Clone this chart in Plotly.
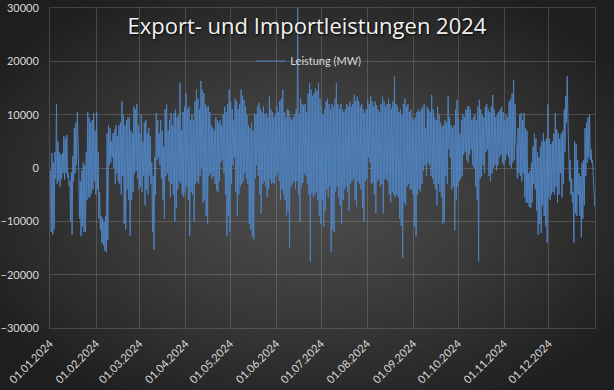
import base64
import struct
import zlib

import numpy as np
import pandas as pd
import plotly.graph_objects as go

# ---------------- data ----------------
# daily maximum / minimum of the power balance in MW, 01.01.2024 .. 31.12.2024
tage_max = [
    -500, 2800, 1000, 3000, 11900, 5000, 3000, 2500, 2800, 6000,
    5500, 6200, -1000, -2500, -800, 2200, 7500, 8500, 10500, -1000,
    -2500, -500, 1000, 500, 3000, 10500, 9500, 8500, 9000, 10300,
    7000, 10500, 3000, -4500, -9000, -9500, -10000, -9000, 6500, 8000,
    7500, 5000, 6500, 7200, 8000, 6000, 8000, 8500, 12500, 9800,
    8000, 9000, 9500, 9500, 7000, 6500, 11500, 11000, 12000, 8000,
    6500,
    10000, 5000, 8500, 9000, 6500, 7500, 6000, 1000, -1500, 2000,
    10300, 9000, 6500, 9000, 7000, 4000, 11000, 11900, 7000, 9000,
    10300, 8000, 10300, 11000, 9500, 10000, 15900, 7000, 10500, 11500,
    14000, 11000, 11500, 9000, 10000, 9000, 12500, 14700, 13000, 11000,
    16300, 14700, 14000, 12000, 11500, 11600, 10500, 8000, 7500, 7000,
    9500, 9000, 8500, 9000, 8000, 10000, 11500, 10500, 12000, 14700,
    12500, 11000, 9000,
    13000, 12500, 11000, 12000, 14700, 13500, 12800, 11500, 10000, 8000,
    7500, 8500, 7000, 10300, 10000, 11500, 12200, 11000, 10500, 11600,
    10000, 10300, 9500, 13400, 11000, 10500, 9500, 10000, 11600, 10500,
    12500, 13000, 14700, 10500, 9500, 11000, 10800, 9500, 9000, 9500,
    10000, 11000, 32000, 10000, 13000, 12000, 11800, 12000, 10500, 14000,
    15900, 14700, 13500, 14000, 15000, 14500, 15900, 13000, 11500, 10000,
    11000, 12500, 13000, 12000,
    11000, 12000, 11500, 13000, 15900, 12000, 11000, 12000, 11000, 10500,
    11000, 12000, 11500, 12500, 11500, 12000, 13700, 12500, 13400, 12500,
    11500, 12000, 11000, 10300, 11000, 12800, 12000, 13400, 12500, 11500,
    12500, 11800, 11000, 10500, 12000, 13400, 12500, 11500, 12000, 13000,
    12000, 11000, 12500, 17200, 12000, 11500, 10500, 11000, 10000, 12000,
    13000, 11500, 12000, 10500, 11000, 9500, 9000, 9500, 10500, 11000,
    10500, 11000, 11500, 12000,
    7500, 11500, 11000, 10500, 13700, 11000, 9500, 9000, 11500, 10000,
    8500, 7800, 8000, 9000, 8500, 13400, 9500, 8000, 7500, 8000,
    11000, 12800, 9500, 6500, 9000, 10000, 9500, 11000, 11500, 11600,
    11000, 9000, 9500, 10000, 9000, 11500, 12800, 11000, 10000, 9500,
    11500, 12000, 11000, 10500, 11500, 13700, 11000, 9500, 10000, 10500,
    11000, 11500, 10500, 9000, 10000, 9500, 12500, 13000, 14000, 16500,
    12000,
    4000, 7500, 10000, 10300, 9000, 10300, 7500, 7000, -1000, -500,
    1000, 4000, 6500, 5500, 3000, 2000, 4000, 5000, 6600, 5000,
    5500, 11900, 5500, 4500, 5000, 6500, 10300, 7200, 6500, 5500,
    6500, 7000, 11000, 13500, 17200, 4000, 1500, -2000, -4500, 5000,
    4500, 1500, -1000, -1500, 1000, 1500, 7500, 8500, 9500, 10000,
    3500, 1500, -3500,
]

tage_min = [
    -12000, -12500, -11500, -2000, -3000, -2500, -3500, -2000, -1000, -2200,
    -1000, -1800, -3400, -10000, -12500, -2500, -1000, 500, -500, -9500,
    -12800, -11000, -12000, -12000, -6000, -5500, -5500, -4800, -4000, -2500,
    -5000, -4000, -9500, -11500, -14000, -14500, -15500, -15800, -13500, 500,
    1000, 2000, 0, -3000, -1000, -2500, -3000, -5000, -1500, -10500,
    -11500, -4000, -6000, -12700, -6000, -4500, -1000, -500, -2000, -4000,
    -3500,
    -4500, -1500, -7000, -4000, -5000, -1500, -3000, -12000, -15300, -5000,
    1500, 2000, 500, -2000, -6000, -9500, -1500, -1000, -2500, -5500,
    -3000, -5000, -10000, -7500, -4000, -2500, -3000, -5000, -5500, -4500,
    -3500, -6000, -12800, -4500, -5000, -10000, -3000, -2500, -3000, -1500,
    0, -6500, -6000, -9000, -10500, -1500, -1000, -2000, -1500, -3000,
    -4200, -4500, -2500, 1000, 1500, -1000, -5000, -12800, -9000, -12000,
    -3000, 500, 2000,
    -4500, -9000, -5000, -3500, -3000, -2500, -1000, -2000, -3000, -10500,
    -11500, -12800, -13400, -2000, 500, -1500, -5000, -8500, -3000, -2500,
    -3500, -5500, -4000, -2200, -3000, -2800, -3000, -1500, -1000, -2500,
    -6000, -4000, -5000, -6000, -9000, -8000, -15000, -3500, -3000, -2500,
    -4000, -2500, -5000, -10000, -3500, -2800, -1000, -1500, -3000, -5000,
    -17500, -4700, -5500, -5000, -4500, -6000, -9000, -10500, -6000, -11000,
    -8000, -4000, -5500, -3500,
    -15800, -11500, -12000, -4500, -3500, -5500, -7000, -10500, -6000, -4000,
    -3500, -4500, -8000, -3000, -2500, -2000, -6000, -7200, -2500, -3000,
    -4000, -7500, -10000, -2500, -2000, 2000, 1000, -3000, -2800, -5000,
    -8500, -2500, -2200, -3500, -3000, -8500, -2200, -2000, -2500, -5000,
    -6500, -4500, -5000, -5500, -5000, -5500, -9500, -10800, -16900, -6500,
    -7000, -3500, -3000, -4000, -4000, -5000, -11000, -12800, -5000, -4000,
    -4500, -3000, -500, 500,
    -1500, 1000, 500, -1500, -2000, -3000, -4000, -7000, -3000, -4500,
    -5500, -10500, -10000, -1500, -3000, 3500, 2000, -4000, -3500, -11700,
    -6000, -3500, -2500, -2000, -1500, 2500, 3000, 1500, 1000, 2500,
    3500, 500, 0, -3500, -6000, -17500, -2000, -1500, 500, -1000,
    3000, 3500, -1500, -2500, -1000, 0, 500, -500, 500, 2000,
    2500, 1000, 500, 1500, 2500, 2000, 500, 0, 1000, 1500,
    4500,
    -2000, -1000, -1500, -2500, -1000, -5500, -6500, -6500, -7300, -7500,
    -6500, -3000, -4000, -8000, -12500, -10500, -12200, -7000, -9000, -10900,
    -14000, -5500, -6000, -5000, -4500, -5000, -3500, -6500, -5000, -1000,
    -5500, -3000, 3000, 8500, 9000, -2500, -5000, -6500, -14000, -8500,
    -9000, -5000, -9000, -13000, -9500, -7000, -1500, 1000, 2000, 1500,
    1000, -2000, -7200,
]

monats_ticks = ["2024-01-01", "2024-02-01", "2024-03-01", "2024-04-01",
                "2024-05-01", "2024-06-01", "2024-07-01", "2024-08-01",
                "2024-09-01", "2024-10-01", "2024-11-01", "2024-12-01"]
monats_texte = ["01.01.2024", "01.02.2024", "01.03.2024", "01.04.2024",
                "01.05.2024", "01.06.2024", "01.07.2024", "01.08.2024",
                "01.09.2024", "01.10.2024", "01.11.2024", "01.12.2024"]
y_ticks = [-30000, -20000, -10000, 0, 10000, 20000, 30000]

titel = "Export- und Importleistungen 2024"
serien_name = "Leistung (MW)"

# ---------------- build series ----------------
tage = pd.date_range("2024-01-01", periods=len(tage_max), freq="D")
zeiten, werte = [], []
for t, hi, lo in zip(tage, tage_max, tage_min):
    zeiten.append(t + pd.Timedelta(hours=8))
    werte.append(hi)
    zeiten.append(t + pd.Timedelta(hours=20))
    werte.append(lo)

# ---------------- background (radial gradient) ----------------
W, H = 614, 390


def png_uri(arr):
    h, w, _ = arr.shape
    raw = b"".join(b"\x00" + arr[r].tobytes() for r in range(h))

    def chunk(tag, data):
        c = struct.pack(">I", len(data)) + tag + data
        return c + struct.pack(">I", zlib.crc32(tag + data) & 0xFFFFFFFF)

    png = (b"\x89PNG\r\n\x1a\n"
           + chunk(b"IHDR", struct.pack(">IIBBBBB", w, h, 8, 2, 0, 0, 0))
           + chunk(b"IDAT", zlib.compress(raw, 9))
           + chunk(b"IEND", b""))
    return "data:image/png;base64," + base64.b64encode(png).decode()


yy, xx = np.mgrid[0:H, 0:W].astype(float)
d = np.sqrt(((xx - W * 0.5) / (W * 0.62)) ** 2 + ((yy - H * 0.5) / (H * 0.62)) ** 2)
d = np.clip(d, 0, 1)
val = 76 - (76 - 30) * d ** 1.3
img = np.repeat(val[:, :, None], 3, axis=2).astype(np.uint8)
bg_uri = png_uri(img)

# ---------------- figure ----------------
ML, MR, MT, MB = 50, 19, 8, 62
PW, PH = W - ML - MR, H - MT - MB

fig = go.Figure()
fig.add_trace(go.Scatter(
    x=zeiten, y=werte, mode="lines", name=serien_name,
    line=dict(color="#4f81bd", width=1),
))

grid = "rgba(255,255,255,0.16)"
fig.update_layout(
    width=W, height=H,
    margin=dict(l=ML, r=MR, t=MT, b=MB, autoexpand=False),
    paper_bgcolor="#2e2e2e",
    plot_bgcolor="rgba(0,0,0,0)",
    images=[dict(source=bg_uri, xref="paper", yref="paper",
                 x=-ML / PW, y=1 + MT / PH, sizex=W / PW, sizey=H / PH,
                 xanchor="left", yanchor="top", sizing="stretch",
                 layer="below")],
    title=dict(text=titel, x=0.5, xanchor="center", y=1 - 26 / H,
               yanchor="middle", automargin=False,
               font=dict(family="Open Sans", size=22, color="#f2f2f2",
                         shadow="1px 1px 2px rgba(0,0,0,0.9)")),
    showlegend=True,
    legend=dict(x=0.474, xanchor="center", y=(H - MB - 61) / PH,
                yanchor="middle", bgcolor="rgba(0,0,0,0)",
                font=dict(family="Lato", size=11, color="#d9d9d9")),
    font=dict(family="Lato", size=11, color="#d9d9d9"),
)
fig.update_xaxes(
    type="date", range=["2024-01-01", "2025-01-01"],
    tickmode="array", tickvals=monats_ticks, ticktext=monats_texte,
    tickangle=-45, showgrid=True, gridcolor=grid, gridwidth=1,
    showline=True, linecolor=grid, mirror=True, ticks="",
    ticklabelstandoff=4, automargin=False,
    tickfont=dict(family="Lato", size=11, color="#d9d9d9"),
    zeroline=False,
)
fig.update_yaxes(
    range=[-30000, 30000], tickmode="array", tickvals=y_ticks,
    tickformat="d", showgrid=True, gridcolor=grid, gridwidth=1,
    showline=True, linecolor=grid, mirror=True, ticks="",
    ticklabelstandoff=8, automargin=False,
    zeroline=False,
    tickfont=dict(family="Lato", size=11, color="#d9d9d9"),
)

fig.write_html("out.html")
